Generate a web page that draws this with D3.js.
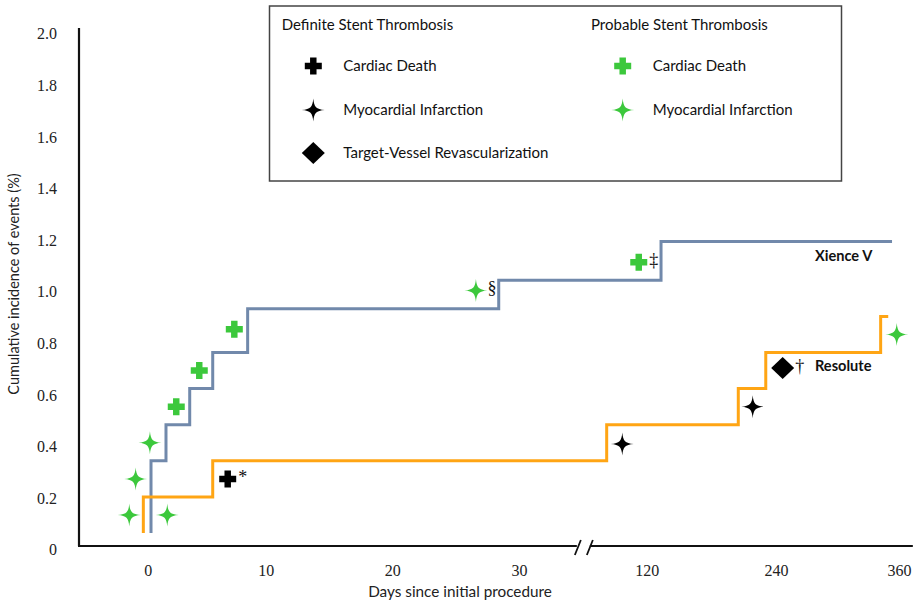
<!DOCTYPE html>
<html><head><meta charset="utf-8">
<script src="https://cdn.jsdelivr.net/npm/d3@7"></script>
<style>body{margin:0;background:#fff}svg{display:block}</style>
</head><body><svg id="c" width="917" height="603"></svg>
<script>
// ---------- data ----------
const yTicks = [0, 0.2, 0.4, 0.6, 0.8, 1.0, 1.2, 1.4, 1.6, 1.8, 2.0];
const yTickLabels = ["0", "0.2", "0.4", "0.6", "0.8", "1.0", "1.2", "1.4", "1.6", "1.8", "2.0"];
const xTicks = [0, 10, 20, 30, 120, 240, 360];
const xTickLabels = ["0", "10", "20", "30", "120", "240", "360"];

const xienceDays   = [0.28, 0.28, 1.55, 3.56, 5.51, 8.47, 28.4, 133.3, 353.2];
const xienceValues = [0.05, 0.33, 0.47, 0.61, 0.75, 0.92, 1.03, 1.18, 1.18];
const resoluteDays   = [-0.37, -0.37, 5.51, 91.8, 205, 230.5, 342.1, 349.5];
const resoluteValues = [0.05, 0.19, 0.33, 0.47, 0.61, 0.75, 0.89, 0.89];

// markers: probable (green) / definite (black)
const probableMIDays   = [-1.56, -1.02, 0.19, 1.66, 26.6, 357.8];
const probableMIValues = [0.12, 0.26, 0.40, 0.12, 0.99, 0.82];
const probableMINotes  = ["", "", "", "", "§", ""];
const probableCDDays   = [2.42, 4.37, 7.34, 114.4];
const probableCDValues = [0.54, 0.68, 0.84, 1.10];
const probableCDNotes  = ["", "", "", "‡"];
const definiteCDDays   = [6.78];
const definiteCDValues = [0.26];
const definiteCDNotes  = ["*"];
const definiteMIDays   = [102.8, 218.4];
const definiteMIValues = [0.395, 0.54];
const definiteMINotes  = ["", ""];
const definiteTVRDays   = [246.5];
const definiteTVRValues = [0.69];
const definiteTVRNotes  = ["†"];

const seriesNames = ["Xience V", "Resolute"];
const seriesLabelDays = [278, 278];
const seriesLabelValues = [1.125, 0.70];

const legendTitles = ["Definite Stent Thrombosis", "Probable Stent Thrombosis"];
const legendDefinite = ["Cardiac Death", "Myocardial Infarction", "Target-Vessel Revascularization"];
const legendProbable = ["Cardiac Death", "Myocardial Infarction"];

// ---------- layout ----------
const svg = d3.select("#c");
const BLUE = "#7189ab", ORANGE = "#ffa514", GREEN = "#3cc83c", BLACK = "#000";
const SANS = "Lato, 'Open Sans', sans-serif";
const SERIF = "'Liberation Serif', 'Times New Roman', serif";

const x = d3.scaleLinear().domain(xTicks).range([147.7, 265.7, 392.3, 519, 646.7, 776, 899]);
const y = d3.scaleLinear().domain([0, 2]).range([546, 30]);
const axisLeftX = 79, axisRightDay = 373.5, breakDay = 75;

// symbol paths
function starPath(r) {
  const a = 0.07 * r, b = 0.24 * r;
  return `M0,${-r} C${a},${-b} ${b},${-a} ${r},0 C${b},${a} ${a},${b} 0,${r} C${-a},${b} ${-b},${a} ${-r},0 C${-b},${-a} ${-a},${-b} 0,${-r}Z`;
}
function crossPath(s) { // total size s, arm thickness t
  const h = s / 2, t = s * 0.19;
  return `M${-t},${-h}H${t}V${-t}H${h}V${t}H${t}V${h}H${-t}V${t}H${-h}V${-t}H${-t}Z`;
}
function diamondPath(w, hgt) {
  return `M0,${-hgt/2}L${w/2},0L0,${hgt/2}L${-w/2},0Z`;
}
const shapes = {
  star: starPath(11.5),
  cross: crossPath(17),
  diamond: diamondPath(23, 22)
};

// ---------- axes ----------
const yAxis = d3.axisLeft(y).tickValues(yTicks).tickFormat((d, i) => yTickLabels[i]).tickSize(0).tickPadding(22);
const gy = svg.append("g").attr("transform", `translate(${axisLeftX},0)`).call(yAxis);
gy.select(".domain").attr("d", `M0,${y(2) - 2}V${y(0)}`).attr("stroke", "#111").attr("stroke-width", 2.2);
gy.selectAll("text").attr("font-family", SERIF).attr("font-size", 16).attr("fill", "#222").attr("dy", "0.55em");

const xAxis = d3.axisBottom(x).tickValues(xTicks).tickFormat((d, i) => xTickLabels[i]).tickSize(0).tickPadding(19);
const gx = svg.append("g").attr("transform", `translate(0,${y(0)})`).call(xAxis);
gx.select(".domain").remove();
gx.selectAll("text").attr("font-family", SERIF).attr("font-size", 16).attr("fill", "#222");

// x axis line with break
const bx = x(breakDay);
const axisG = svg.append("g").attr("stroke", "#111").attr("stroke-width", 2.2).attr("fill", "none");
axisG.append("path").attr("d", `M${axisLeftX - 1},${y(0)}H${bx - 6}M${bx + 7},${y(0)}H${x(axisRightDay)}`);
axisG.append("path").attr("stroke-width", 1.8)
  .attr("d", `M${bx - 8},${y(0) + 9}L${bx - 2},${y(0) - 6}M${bx + 4},${y(0) + 9}L${bx + 10},${y(0) - 6}`);

// axis titles
svg.append("text").attr("x", 460).attr("y", 597).attr("text-anchor", "middle")
  .attr("font-family", SANS).attr("font-size", 15.3).attr("fill", "#222").text("Days since initial procedure");
svg.append("text").attr("transform", "translate(19,284) rotate(-90)").attr("text-anchor", "middle")
  .attr("font-family", SANS).attr("font-size", 14.5).attr("fill", "#222").text("Cumulative incidence of events (%)");

// ---------- step lines ----------
const line = d3.line().x(d => x(d[0])).y(d => y(d[1])).curve(d3.curveStepAfter);
svg.append("path").datum(xienceDays.map((d, i) => [d, xienceValues[i]]))
  .attr("d", line).attr("fill", "none").attr("stroke", BLUE).attr("stroke-width", 3);
svg.append("path").datum(resoluteDays.map((d, i) => [d, resoluteValues[i]]))
  .attr("d", line).attr("fill", "none").attr("stroke", ORANGE).attr("stroke-width", 3);

// ---------- markers ----------
function drawMarkers(days, values, notes, shape, color, noteDx) {
  const data = days.map((d, i) => ({ d, v: values[i], n: notes[i] }));
  const g = svg.append("g");
  g.selectAll("path").data(data).join("path")
    .attr("transform", p => `translate(${x(p.d)},${y(p.v)})`)
    .attr("d", shapes[shape]).attr("fill", color);
  g.selectAll("text").data(data.filter(p => p.n)).join("text")
    .attr("x", p => x(p.d) + noteDx).attr("y", p => y(p.v))
    .attr("dy", "0.2em").attr("text-anchor", "middle")
    .attr("font-family", SERIF).attr("font-size", 18).attr("fill", "#111").text(p => p.n);
}
drawMarkers(probableMIDays, probableMIValues, probableMINotes, "star", GREEN, 16);
drawMarkers(probableCDDays, probableCDValues, probableCDNotes, "cross", GREEN, 15);
drawMarkers(definiteCDDays, definiteCDValues, definiteCDNotes, "cross", BLACK, 15);
drawMarkers(definiteMIDays, definiteMIValues, definiteMINotes, "star", BLACK, 16);
drawMarkers(definiteTVRDays, definiteTVRValues, definiteTVRNotes, "diamond", BLACK, 17);

// series labels
svg.selectAll("text.series").data(seriesNames).join("text").attr("class", "series")
  .attr("x", (d, i) => x(seriesLabelDays[i])).attr("y", (d, i) => y(seriesLabelValues[i]))
  .attr("dy", "0.35em").attr("font-family", SANS).attr("font-weight", "bold")
  .attr("font-size", 14.6).attr("fill", "#111").text(d => d);

// ---------- legend ----------
const lg = svg.append("g");
lg.append("rect").attr("x", 269.5).attr("y", 6).attr("width", 572).attr("height", 175)
  .attr("fill", "#fff").attr("stroke", "#444").attr("stroke-width", 1.5);
const colX = [281.7, 591], symX = [313.3, 622.7], txtX = [343.3, 652.7];
const rowY = [66, 110, 153];
lg.selectAll("text.lt").data(legendTitles).join("text").attr("class", "lt")
  .attr("x", (d, i) => colX[i]).attr("y", 25).attr("dy", "0.35em")
  .attr("font-family", SANS).attr("font-size", 15).attr("fill", "#111").text(d => d);
const legShapes = ["cross", "star", "diamond"];
const legItems = legendDefinite.map((t, i) => ({ t, col: 0, row: i, shape: legShapes[i], color: BLACK }))
  .concat(legendProbable.map((t, i) => ({ t, col: 1, row: i, shape: legShapes[i], color: GREEN })));
lg.selectAll("path.ls").data(legItems).join("path").attr("class", "ls")
  .attr("transform", d => `translate(${symX[d.col]},${rowY[d.row]})`)
  .attr("d", d => shapes[d.shape]).attr("fill", d => d.color);
lg.selectAll("text.li").data(legItems).join("text").attr("class", "li")
  .attr("x", d => txtX[d.col]).attr("y", d => rowY[d.row]).attr("dy", "0.35em")
  .attr("font-family", SANS).attr("font-size", 15).attr("fill", "#111").text(d => d.t);
</script>
</body></html>
